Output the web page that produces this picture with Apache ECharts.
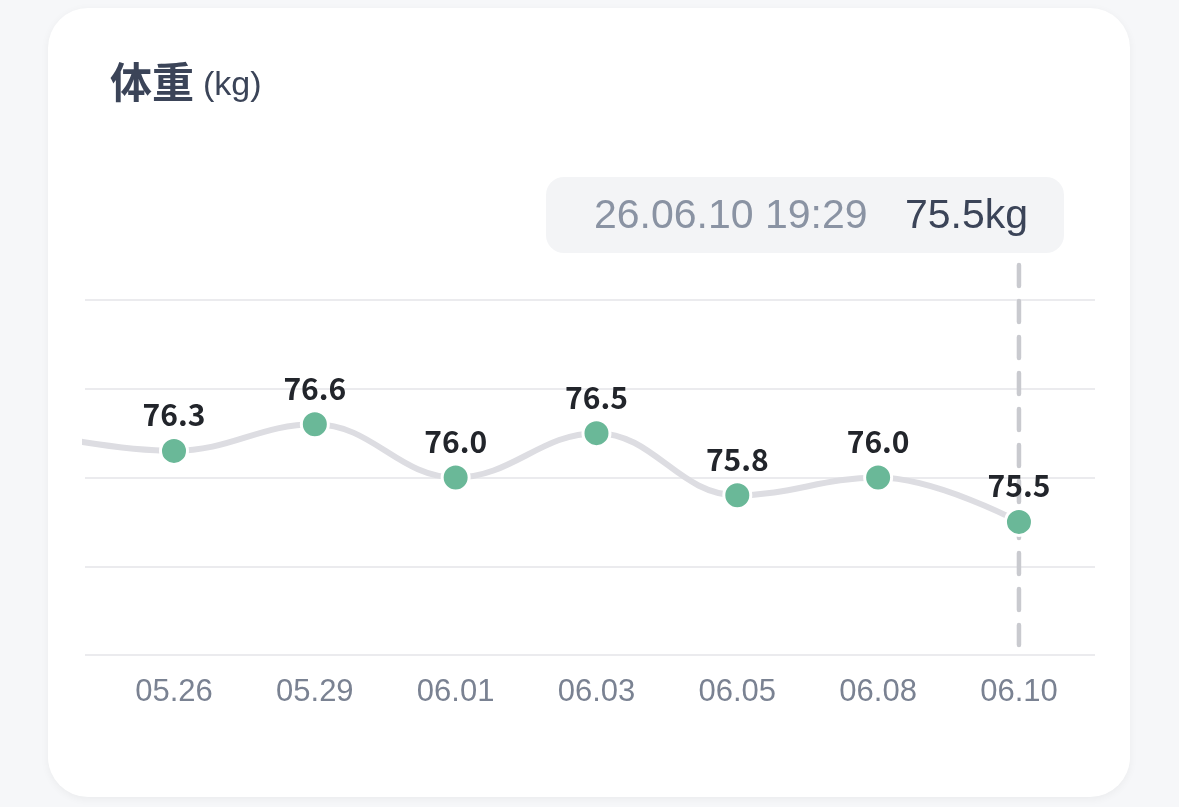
<!DOCTYPE html>
<html>
<head>
<meta charset="utf-8">
<script src="https://cdn.jsdelivr.net/npm/echarts@6/dist/echarts.min.js"></script>
<style>
  html, body { margin: 0; padding: 0; background: #f6f7f9; }
  .card {
    position: absolute; left: 48px; top: 8px; width: 1082px; height: 789px;
    background: #fff; border-radius: 40px;
    box-shadow: 0 2px 8px rgba(0, 0, 0, 0.05);
  }
  #main { position: absolute; left: 0; top: 0; width: 1179px; height: 807px; }
</style>
</head>
<body>
<div class="card"></div>
<div id="main"></div>
<script>
// 日期标签
var dates = ['05.26', '05.29', '06.01', '06.03', '06.05', '06.08', '06.10'];
// 体重 (kg)，prevWeight 是左边被裁掉的上一次记录
var prevWeight = 76.5;
var weights = [76.3, 76.6, 76.0, 76.5, 75.8, 76.0, 75.5];
var yTicks = [74, 75, 76, 77, 78];
var lastTime = '26.06.10 19:29';

var cjk = "'Noto Sans CJK SC', 'Noto Sans', sans-serif";
var latin = "'Liberation Sans', Arial, sans-serif";

var seriesData = [{ value: [-1, prevWeight], label: { show: false }, symbolSize: 0 }];
for (var i = 0; i < weights.length; i++) {
  seriesData.push([i, weights[i]]);
}
var lastIdx = weights.length - 1;

var chart = echarts.init(document.getElementById('main'));
var option = {
  backgroundColor: 'transparent',
  title: {
    left: 105,
    top: 56,
    text: '{a|体重} {b|(kg)}',
    textStyle: {
      rich: {
        a: { fontSize: 42, fontWeight: 'bold', color: '#3b4458', fontFamily: cjk },
        b: { fontSize: 34, fontWeight: 'normal', color: '#3b4458', fontFamily: latin, padding: [8, 0, 0, 4] }
      }
    }
  },
  grid: { left: 85, right: 84, top: 300, bottom: 152, containLabel: false },
  xAxis: {
    type: 'value',
    min: -0.632,
    max: 6.54,
    axisLine: { show: false },
    axisTick: { show: false },
    splitLine: { show: false },
    axisLabel: {
      customValues: [0, 1, 2, 3, 4, 5, 6],
      formatter: function (v) { return dates[Math.round(v)]; },
      color: '#7a8292',
      fontSize: 31,
      fontFamily: latin,
      margin: 22
    }
  },
  yAxis: {
    type: 'value',
    min: yTicks[0],
    max: yTicks[yTicks.length - 1],
    interval: 1,
    axisLine: { show: false },
    axisTick: { show: false },
    axisLabel: { show: false },
    splitLine: { lineStyle: { color: '#ebebee', width: 2 } }
  },
  series: [{
    type: 'line',
    smooth: 0.4,
    clip: true,
    data: seriesData,
    symbol: 'circle',
    symbolSize: 27,
    itemStyle: { color: '#6ab898', borderColor: '#fff', borderWidth: 3 },
    lineStyle: { color: '#dddde2', width: 6 },
    label: {
      show: true,
      position: 'top',
      distance: 6,
      formatter: function (p) { return p.value[1].toFixed(1); },
      color: '#22252b',
      fontSize: 30,
      fontWeight: 'bold',
      fontFamily: cjk
    },
    z: 3
  }],
  graphic: [{
    type: 'group',
    right: 115,
    top: 177,
    children: [{
      type: 'rect',
      shape: { x: 0, y: 0, width: 518, height: 76, r: 18 },
      style: { fill: '#f3f4f6' }
    }, {
      type: 'text',
      x: 48,
      y: 40,
      style: {
        text: lastTime,
        fill: '#8a93a3',
        font: '41px ' + latin,
        verticalAlign: 'middle'
      }
    }, {
      type: 'text',
      x: 359,
      y: 40,
      style: {
        text: weights[lastIdx].toFixed(1) + 'kg',
        fill: '#3b4458',
        font: '41px ' + latin,
        verticalAlign: 'middle'
      }
    }]
  }]
};
chart.setOption(option);

// 最后一条记录的虚线指示
var px = chart.convertToPixel({ gridIndex: 0 }, [lastIdx, weights[lastIdx]]);
chart.setOption({
  graphic: [option.graphic[0], {
    type: 'line',
    z: 1,
    shape: { x1: px[0], y1: 265, x2: px[0], y2: 645 },
    style: { stroke: '#c9cacf', lineWidth: 4.5, lineDash: [21, 15], lineCap: 'round' }
  }]
});
</script>
</body>
</html>
